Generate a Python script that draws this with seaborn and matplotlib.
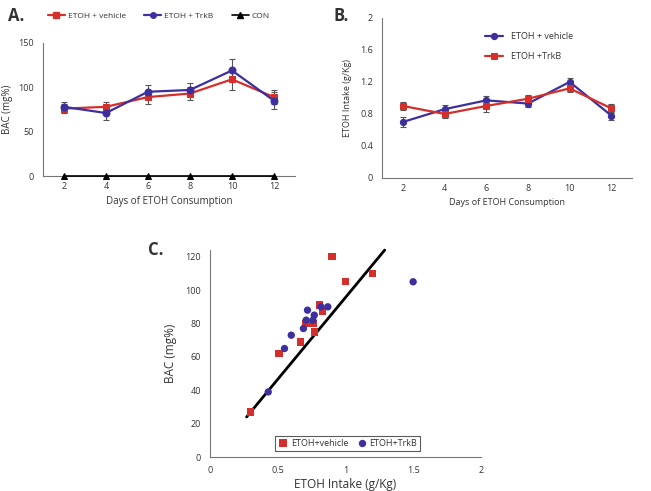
import numpy as np
import pandas as pd
import matplotlib
matplotlib.use("Agg")
import matplotlib.pyplot as plt
import seaborn as sns
from matplotlib.lines import Line2D

# Panel A : BAC over days
days = [2, 4, 6, 8, 10, 12]
bac_vehicle = [76, 78, 89, 93, 109, 89]
bac_vehicle_err = [5, 6, 8, 7, 12, 8]
bac_trkb = [78, 71, 95, 97, 119, 85]
bac_trkb_err = [6, 8, 8, 8, 13, 10]
bac_con = [0, 0, 0, 0, 0, 0]

# Panel B : ETOH intake over days
intake_vehicle = [0.70, 0.86, 0.97, 0.93, 1.20, 0.78]
intake_vehicle_err = [0.06, 0.05, 0.06, 0.04, 0.05, 0.05]
intake_trkb = [0.90, 0.80, 0.90, 0.99, 1.12, 0.87]
intake_trkb_err = [0.05, 0.05, 0.07, 0.05, 0.05, 0.06]

# Panel C : BAC vs intake
veh_x = [0.30, 0.51, 0.67, 0.71, 0.76, 0.77, 0.81, 0.83, 0.90, 1.00, 1.20]
veh_y = [27, 62, 69, 80, 80, 75, 91, 87, 120, 105, 110]
trk_x = [0.43, 0.55, 0.60, 0.69, 0.71, 0.72, 0.76, 0.77, 0.82, 0.87, 1.50]
trk_y = [39, 65, 73, 77, 82, 88, 82, 85, 90, 90, 105]
fit_x = [0.27, 1.29]
fit_y = [24, 124]

RED = "#d42f2a"
BLUE = "#3d2f9e"
TXT = "#333333"

sns.set_theme(style="white")
plt.rcParams["font.family"] = ["Open Sans", "DejaVu Sans"]
plt.rcParams["text.color"] = TXT
plt.rcParams["axes.labelcolor"] = TXT
plt.rcParams["xtick.color"] = TXT
plt.rcParams["ytick.color"] = TXT

fig = plt.figure(figsize=(6.51, 4.91), dpi=100)
axA = fig.add_axes([0.066, 0.6415, 0.387, 0.271])
axB = fig.add_axes([0.587, 0.6375, 0.384, 0.326])
axC = fig.add_axes([0.3226, 0.0692, 0.416, 0.4215])


def style_cat_axis(ax):
    sns.despine(ax=ax)
    ax.set_xlim(1, 13)
    ax.set_xticks(days)
    ax.set_xticks([1, 3, 5, 7, 9, 11, 13], minor=True)
    ax.tick_params(axis="x", which="major", length=0, labelsize=6.5, pad=4)
    ax.tick_params(axis="x", which="minor", length=3, width=0.6, color="#777777", direction="out")
    ax.tick_params(axis="y", length=3, width=0.6, labelsize=6.5, direction="out", color="#777777")
    for s in ["left", "bottom"]:
        ax.spines[s].set_color("#777777")
        ax.spines[s].set_linewidth(0.8)


def line_with_err(ax, y, err, color, marker, label, ms=5):
    df = pd.DataFrame({"day": days, "val": y})
    ax.errorbar(days, y, yerr=err, fmt="none", ecolor="#555555", elinewidth=0.8, capsize=2, capthick=0.8, zorder=2)
    sns.lineplot(data=df, x="day", y="val", ax=ax, color=color, marker=marker, markersize=ms,
                 markeredgecolor=color, linewidth=1.6, label=label, legend=False, zorder=3)


# ---- A ----
line_with_err(axA, bac_vehicle, bac_vehicle_err, RED, "s", "ETOH + vehicle")
line_with_err(axA, bac_trkb, bac_trkb_err, BLUE, "o", "ETOH + TrkB")
sns.lineplot(x=days, y=bac_con, ax=axA, color="black", marker="^", markersize=5,
             markeredgecolor="black", linewidth=1.2, label="CON", legend=False, zorder=4, clip_on=False)
axA.set_ylim(0, 150)
axA.set_yticks([0, 50, 100, 150])
style_cat_axis(axA)
axA.set_xlabel("Days of ETOH Consumption", fontsize=7)
axA.set_ylabel("BAC (mg%)", fontsize=7, labelpad=4)
hA = [Line2D([], [], color=RED, marker="s", ms=4, lw=1.6),
      Line2D([], [], color=BLUE, marker="o", ms=4, lw=1.6),
      Line2D([], [], color="black", marker="^", ms=4, lw=1.2)]
fig.legend(hA, ["ETOH + vehicle", "ETOH + TrkB", "CON"], loc="center left",
           bbox_to_anchor=(0.062, 0.968), ncol=3, frameon=False, fontsize=6,
           handlelength=2.0, columnspacing=2.2, handletextpad=0.4)

# ---- B ----
line_with_err(axB, intake_vehicle, intake_vehicle_err, BLUE, "o", "ETOH + vehicle", ms=4.5)
line_with_err(axB, intake_trkb, intake_trkb_err, RED, "s", "ETOH +TrkB", ms=4.5)
axB.set_ylim(0, 2)
axB.set_yticks([0, 0.4, 0.8, 1.2, 1.6, 2])
axB.set_yticklabels(["0", "0.4", "0.8", "1.2", "1.6", "2"])
style_cat_axis(axB)
axB.set_xlabel("Days of ETOH Consumption", fontsize=6.5)
axB.set_ylabel("ETOH Intake (g/Kg)", fontsize=6.5, labelpad=6)
axB.legend(loc="upper left", bbox_to_anchor=(0.38, 0.96), frameon=False, fontsize=6.5,
           handlelength=2.0, labelspacing=1.2)

# ---- C ----
dfC = pd.DataFrame({
    "x": veh_x + trk_x,
    "y": veh_y + trk_y,
    "group": ["ETOH+vehicle"] * len(veh_x) + ["ETOH+TrkB"] * len(trk_x),
})
sns.scatterplot(data=dfC, x="x", y="y", hue="group", style="group",
                palette={"ETOH+vehicle": RED, "ETOH+TrkB": BLUE},
                markers={"ETOH+vehicle": "s", "ETOH+TrkB": "o"},
                s=28, linewidth=0, ax=axC, zorder=3)
axC.plot(fit_x, fit_y, color="black", linewidth=2, zorder=2, clip_on=False)
axC.set_xlim(0, 2)
axC.set_ylim(0, 124)
axC.set_xticks([0, 0.5, 1, 1.5, 2])
axC.set_xticklabels(["0", "0.5", "1", "1.5", "2"])
axC.set_yticks([0, 20, 40, 60, 80, 100, 120])
sns.despine(ax=axC)
for s in ["left", "bottom"]:
    axC.spines[s].set_color("#777777")
    axC.spines[s].set_linewidth(0.8)
axC.tick_params(length=3, width=0.6, labelsize=6.5, direction="out", color="#777777")
axC.set_xlabel("ETOH Intake (g/Kg)", fontsize=8.5, labelpad=2)
axC.set_ylabel("BAC (mg%)", fontsize=8.5, labelpad=6)
legC = axC.legend(loc="lower center", bbox_to_anchor=(0.507, 0.005), ncol=2, frameon=True, fontsize=6.5,
                  fancybox=False, edgecolor="#333333", handletextpad=0.2, columnspacing=0.9,
                  handlelength=1.2, borderpad=0.35, title=None)
legC.get_frame().set_linewidth(0.8)

fig.text(0.012, 0.968, "A.", fontsize=12, fontweight="bold", va="center")
fig.text(0.513, 0.968, "B.", fontsize=12, fontweight="bold", va="center")
fig.text(0.228, 0.49, "C.", fontsize=12, fontweight="bold", va="center")

fig.savefig("out.png", dpi=100)
